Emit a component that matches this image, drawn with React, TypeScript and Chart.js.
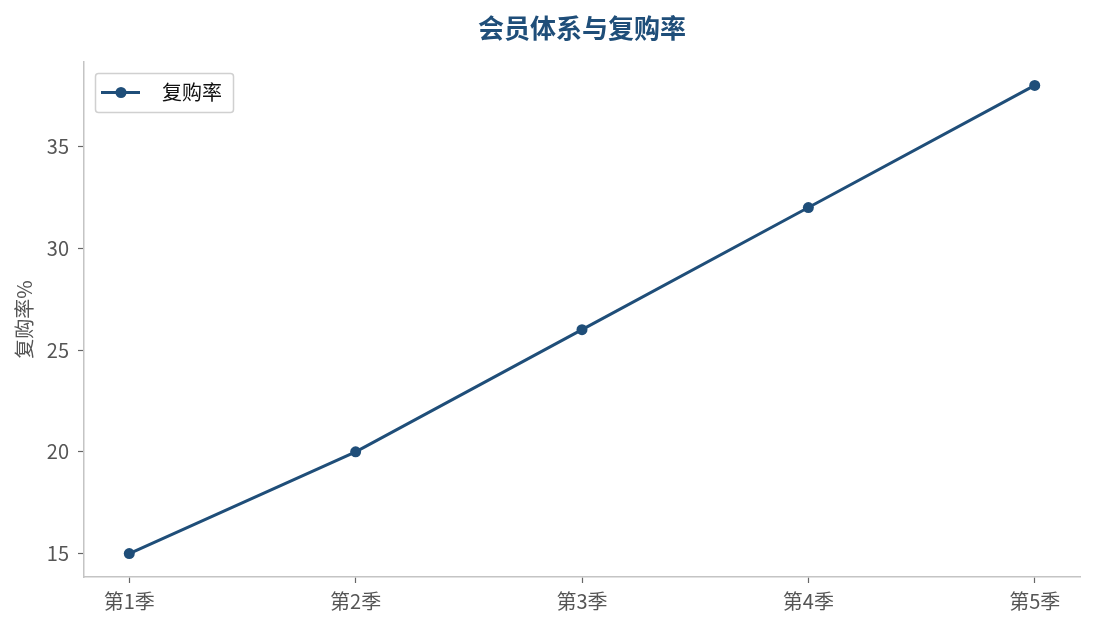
import { Chart, registerables } from 'chart.js';
import { useEffect, useRef } from 'react';
Chart.register(...registerables);

const categories = ['第1季', '第2季', '第3季', '第4季', '第5季'];
const repurchaseRate = [15, 20, 26, 32, 38];
const yTicks = [15, 20, 25, 30, 35];
const seriesName = '复购率';
const chartTitle = '会员体系与复购率';
const yAxisTitle = '复购率%';

const BLUE = '#1f4e79';
const FONT = '"Noto Sans CJK SC", "Noto Sans", sans-serif';

export default function App() {
  const ref = useRef<HTMLCanvasElement | null>(null);
  useEffect(() => {
    if (!ref.current) return;
    document.body.style.margin = '0';
    const ctx = ref.current.getContext('2d')!;

    // title + matplotlib-like legend box drawn by hand
    const deco = {
      id: 'deco',
      afterDraw(chart: Chart) {
        const c = chart.ctx;
        const a = chart.chartArea;
        c.save();
        c.fillStyle = BLUE;
        c.font = `bold 26px ${FONT}`;
        c.textAlign = 'center';
        c.textBaseline = 'middle';
        c.fillText(chartTitle, (a.left + a.right) / 2, 28);

        // legend
        const x = a.left + 11, y = a.top + 11, w = 138, h = 39;
        c.beginPath();
        c.roundRect(x + 0.5, y + 0.5, w, h, 3);
        c.fillStyle = 'rgba(255,255,255,0.8)';
        c.fill();
        c.strokeStyle = '#d0d0d0';
        c.lineWidth = 1.5;
        c.stroke();
        const cy = y + h / 2;
        c.beginPath();
        c.moveTo(x + 6, cy);
        c.lineTo(x + 45, cy);
        c.strokeStyle = BLUE;
        c.lineWidth = 3;
        c.stroke();
        c.beginPath();
        c.arc(x + 26, cy, 5.5, 0, Math.PI * 2);
        c.fillStyle = BLUE;
        c.fill();
        c.fillStyle = '#111';
        c.font = `20px ${FONT}`;
        c.textAlign = 'left';
        c.fillText(seriesName, x + 67, cy);
        c.restore();
      },
    };

    const chart = new Chart(ctx, {
      type: 'line',
      data: {
        datasets: [
          {
            label: seriesName,
            data: repurchaseRate.map((v, i) => ({ x: i, y: v })),
            borderColor: BLUE,
            backgroundColor: BLUE,
            borderWidth: 3,
            pointRadius: 5.5,
            pointHoverRadius: 5.5,
            pointBackgroundColor: BLUE,
            pointBorderWidth: 0,
            tension: 0,
          },
        ],
      },
      options: {
        responsive: false,
        animation: false,
        layout: { padding: { top: 62, right: 15, left: 0, bottom: 0 } },
        plugins: {
          legend: { display: false },
          title: { display: false },
          tooltip: { enabled: false },
        },
        scales: {
          x: {
            type: 'linear',
            min: -0.2,
            max: 4.2,
            afterBuildTicks: (s: any) => {
              s.ticks = categories.map((_, i) => ({ value: i }));
            },
            afterFit: (s: any) => {
              s.height = 53;
            },
            ticks: {
              callback: (v: any) => categories[v as number] ?? '',
              color: '#555',
              font: { family: FONT, size: 20 },
              padding: 6,
              maxRotation: 0,
            },
            grid: { drawOnChartArea: false, tickLength: 6, tickColor: '#666', tickWidth: 1.2 },
            border: { color: '#c4c4c4', width: 1.5 },
          },
          y: {
            min: 13.85,
            max: 39.15,
            afterBuildTicks: (s: any) => {
              s.ticks = yTicks.map((v) => ({ value: v }));
            },
            afterFit: (s: any) => {
              s.width = 84;
            },
            ticks: {
              color: '#555',
              font: { family: FONT, size: 20 },
              padding: 9,
            },
            title: {
              display: true,
              text: yAxisTitle,
              color: '#555',
              font: { family: FONT, size: 20 },
              padding: { top: 12, bottom: 0 },
            },
            grid: { drawOnChartArea: false, tickLength: 6, tickColor: '#666', tickWidth: 1.2 },
            border: { color: '#c4c4c4', width: 1.5 },
          },
        },
      },
      plugins: [deco],
    });
    return () => chart.destroy();
  }, []);
  return (
    <div style={{ width: 1095, height: 630, background: '#fff' }}>
      <canvas ref={ref} width={1095} height={630} />
    </div>
  );
}
